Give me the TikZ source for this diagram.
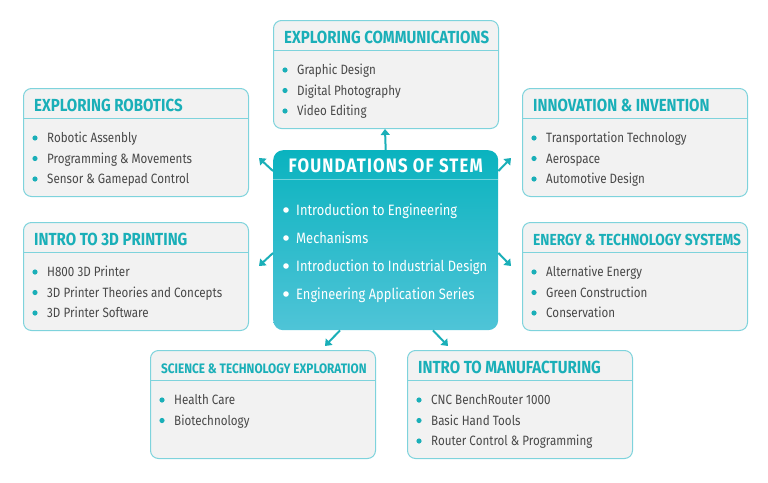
\documentclass[tikz,border=0pt]{standalone}
\usepackage{fontspec}
\setmainfont{Fira Sans}[FakeStretch=0.86]
\usetikzlibrary{arrows.meta}
\definecolor{stemteal}{HTML}{1AAFB8}
\definecolor{stemrule}{HTML}{7ED3DC}
\definecolor{stemfill}{HTML}{F2F2F2}
\definecolor{stemtext}{HTML}{484848}
\definecolor{stemtop}{HTML}{0AB3BF}
\definecolor{stembot}{HTML}{4FC4D7}
\tikzset{topic/.style={draw=stemrule, fill=stemfill, line width=1pt,
         rounded corners=8pt, minimum width=225pt, minimum height=108pt,
         inner sep=0pt},
         head/.style={text=stemteal, inner sep=0pt,
         font=\fontsize{17.5}{17.5}\selectfont\bfseries},
         item/.style={text=stemtext, inner sep=0pt,
         font=\fontsize{13.5}{13.5}\selectfont},
         rule/.style={draw=stemrule, line width=1pt},
         link/.style={draw=stemteal, line width=2pt,
         -{Triangle[width=9pt,length=6pt]}}}
% name, north west corner, title, title font, items
\newcommand\topicbox[5]{
  \node[topic, anchor=north west] (#1) at (#2) {};
  \draw[rule] ([yshift=-30pt]#1.north west) -- ([yshift=-30pt]#1.north east);
  \node[head, anchor=base west, #4] (#1-head) at ([xshift=11pt,yshift=-23pt]#1.north west) {#3};
  \foreach \t [count=\i] in {#5} {
    \node[item, anchor=base west] (#1-\i) at ([xshift=24pt,yshift=-34pt-20.5pt*\i]#1.north west) {\t};
    \fill[stemteal] ([xshift=-12pt,yshift=4.5pt]#1-\i.base west) circle (2.6pt);
  }
}

\begin{document}
\begin{tikzpicture}[x=1pt, y=-1pt]
  \useasboundingbox (0,0) rectangle (768,482);

  \topicbox{comm}{273,20}{EXPLORING COMMUNICATIONS}{}{Graphic Design, Digital Photography, Video Editing}
  \topicbox{robot}{23,88}{EXPLORING ROBOTICS}{}{Robotic Assenbly, Programming \& Movements, Sensor \& Gamepad Control}
  \topicbox{innov}{522,88}{INNOVATION \& INVENTION}{}{Transportation Technology, Aerospace, Automotive Design}
  \topicbox{print}{23,222}{INTRO TO 3D PRINTING}{}{H800 3D Printer, 3D Printer Theories and Concepts, 3D Printer Software}
  \topicbox{energy}{522,222}{ENERGY \& TECHNOLOGY SYSTEMS}{font=\fontsize{16}{16}\selectfont\bfseries}{Alternative Energy, Green Construction, Conservation}
  \topicbox{sci}{150,350}{SCIENCE \& TECHNOLOGY EXPLORATION}{font=\fontsize{13.7}{13.7}\selectfont\bfseries}{Health Care, Biotechnology}
  \topicbox{manu}{407,350}{INTRO TO MANUFACTURING}{}{CNC BenchRouter 1000, Basic Hand Tools, Router Control \& Programming}

  % centre box
  \node[rounded corners=10pt, top color=stemtop, bottom color=stembot,
        minimum width=225pt, minimum height=180pt, inner sep=0pt,
        anchor=north west] (stem) at (273,150) {};
  \draw[white, opacity=0.4, line width=1pt] ([yshift=-29pt]stem.north west) -- ([yshift=-29pt]stem.north east);
  \node[white, inner sep=0pt, font=\fontsize{19.5}{19.5}\selectfont\bfseries\addfontfeatures{LetterSpace=6}]
    (stem-head) at ([yshift=-16pt]stem.north) {FOUNDATIONS OF STEM};
  \foreach \t [count=\i] in {Introduction to Engineering, Mechanisms,
      Introduction to Industrial Design, Engineering Application Series} {
    \node[white, inner sep=0pt, anchor=base west, font=\fontsize{15}{15}\selectfont]
      (stem-\i) at ([xshift=23pt,yshift=-37pt-28pt*\i]stem.north west) {\t};
    \fill[white] ([xshift=-10pt,yshift=5pt]stem-\i.base west) circle (2.8pt);
  }

  % arrows
  \coordinate (tip-n) at (385,129);
  \coordinate (tip-nw) at (259,158);
  \coordinate (tip-ne) at (511,158);
  \coordinate (tip-sw) at (259,266);
  \coordinate (tip-se) at (511,266);
  \coordinate (tip-bl) at (325,346);
  \coordinate (tip-br) at (448,346);
  \draw[link] (stem.north) -- (tip-n);
  \draw[link] (stem.west |- 0,171) -- (tip-nw);
  \draw[link] (stem.east |- 0,171) -- (tip-ne);
  \draw[link] (stem.west |- 0,253) -- (tip-sw);
  \draw[link] (stem.east |- 0,253) -- (tip-se);
  \draw[link] (stem.south -| 340,0) -- (tip-bl);
  \draw[link] (stem.south -| 433,0) -- (tip-br);
\end{tikzpicture}
\end{document}
